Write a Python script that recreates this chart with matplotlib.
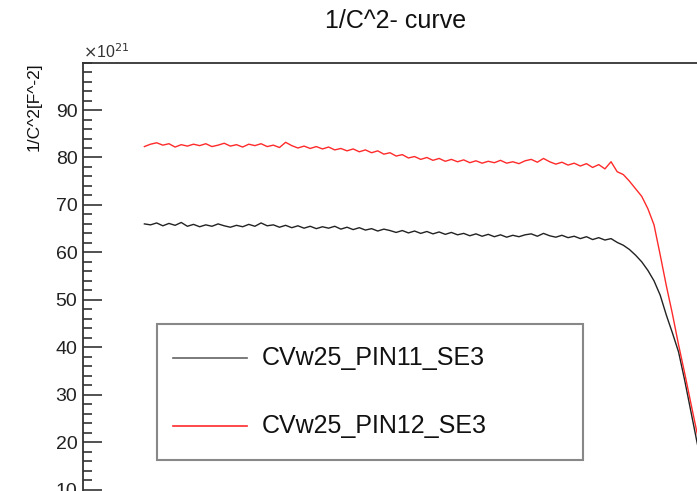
import matplotlib
matplotlib.use("Agg")
import matplotlib.pyplot as plt
from matplotlib.ticker import MultipleLocator
from matplotlib.lines import Line2D
from matplotlib.patches import Rectangle

plt.rcParams['font.family'] = ['Liberation Sans', 'DejaVu Sans']

title = "1/C^2- curve"
ylabel = "1/C^2[F^-2]"
labels = ["CVw25_PIN11_SE3", "CVw25_PIN12_SE3"]

bias = list(range(10, 103))

pin11 = [66.0, 65.8, 66.2, 65.6, 66.1, 65.7, 66.3, 65.5, 65.9, 65.4,
         65.8, 65.5, 66.0, 65.6, 65.3, 65.7, 65.4, 65.9, 65.5, 66.2,
         65.6, 65.8, 65.3, 65.7, 65.2, 65.6, 65.1, 65.5, 65.0, 65.4,
         65.1, 65.5, 64.9, 65.3, 64.8, 65.2, 64.7, 65.0, 64.5, 64.9,
         64.6, 64.2, 64.6, 64.1, 64.5, 64.0, 64.4, 63.9, 64.3, 63.8,
         64.2, 63.7, 64.0, 63.5, 63.9, 63.4, 63.8, 63.3, 63.7, 63.2,
         63.6, 63.3, 63.7, 63.9, 63.4, 64.0, 63.5, 63.2, 63.6, 63.1,
         63.4, 62.9, 63.3, 62.7, 63.1, 62.6, 62.9, 62.1, 61.5, 60.6,
         59.4, 58.0, 56.2, 54.0, 51.0, 46.8, 43.0, 39.0, 33.0, 26.5,
         20.0, 14.0, 8.0]

pin12 = [82.3, 82.8, 83.1, 82.6, 82.9, 82.2, 82.7, 82.4, 82.8, 82.5,
         82.9, 82.3, 82.6, 83.0, 82.4, 82.7, 82.2, 82.8, 82.5, 82.9,
         82.3, 82.6, 82.1, 83.2, 82.5, 82.0, 82.4, 81.9, 82.3, 81.8,
         82.2, 81.6, 81.9, 81.4, 81.8, 81.2, 81.6, 81.0, 81.4, 80.7,
         81.0, 80.3, 80.6, 79.9, 80.2, 79.6, 80.0, 79.4, 79.8, 79.2,
         79.6, 79.1, 79.5, 78.9, 79.3, 78.8, 79.2, 78.9, 79.4, 78.8,
         79.1, 78.7, 79.3, 79.6, 79.0, 79.8, 79.1, 78.6, 79.0, 78.4,
         78.8, 78.2, 78.7, 77.9, 78.5, 77.6, 79.1, 77.0, 76.4, 75.0,
         73.4, 71.8, 69.2, 65.8, 59.5, 53.0, 47.0, 40.5, 34.5, 28.2,
         22.0, 16.0, 10.0]

yticks = [10, 20, 30, 40, 50, 60, 70, 80, 90]

W, H = 697, 491
fig = plt.figure(figsize=(W / 100, H / 100), dpi=100)
left = 83 / W
top = 1 - 62.6 / H
ax = fig.add_axes([left, 0, 1.0 - left, top])
ax.set_xlim(0, 100)
ax.set_ylim(9.7, 100)

l11, = ax.plot(bias, pin11, color='#222222', lw=1.0)
l12, = ax.plot(bias, pin12, color='#ff2a2a', lw=1.0)

for s in ['right', 'bottom']:
    ax.spines[s].set_visible(False)
for s in ['left', 'top']:
    ax.spines[s].set_color('#333333')
    ax.spines[s].set_linewidth(1.3)

ax.set_yticks(yticks)
ax.set_yticklabels([str(v) for v in yticks], fontsize=14, color='#222222')
ax.yaxis.set_minor_locator(MultipleLocator(2))
ax.tick_params(axis='y', which='major', direction='in', length=13.5, width=1.2, color='#333333', pad=4)
ax.tick_params(axis='y', which='minor', direction='in', length=6.5, width=1.2, color='#333333')
ax.set_xticks([])


def fx(px):
    return px / W


def fy(py):
    return 1 - py / H


fig.text(fx(396), fy(21.5), title, ha='center', va='center', fontsize=18, color='#111111')
fig.text(fx(34), fy(62), ylabel, ha='center', va='top', rotation=90, fontsize=12.5, color='#111111')
fig.text(fx(83), fy(52), r"$\times$10$^{21}$", ha='left', va='center', fontsize=11.5, color='#333333')

# legend box
fig.add_artist(Rectangle((fx(157), fy(460)), fx(583) - fx(157), fy(324) - fy(460),
                         transform=fig.transFigure, facecolor='white',
                         edgecolor='#888888', linewidth=1.5, zorder=5))
for line, lab, py in [(l11, labels[0], 358), (l12, labels[1], 426)]:
    fig.add_artist(Line2D([fx(173), fx(247)], [fy(py), fy(py)], transform=fig.transFigure,
                          color=line.get_color(), linewidth=1.2, alpha=0.7 if line is l11 else 1.0,
                          zorder=6))
    fig.text(fx(262), fy(py), lab, ha='left', va='center', fontsize=18,
             color='#111111', zorder=6)

fig.savefig("out.png", dpi=100)
